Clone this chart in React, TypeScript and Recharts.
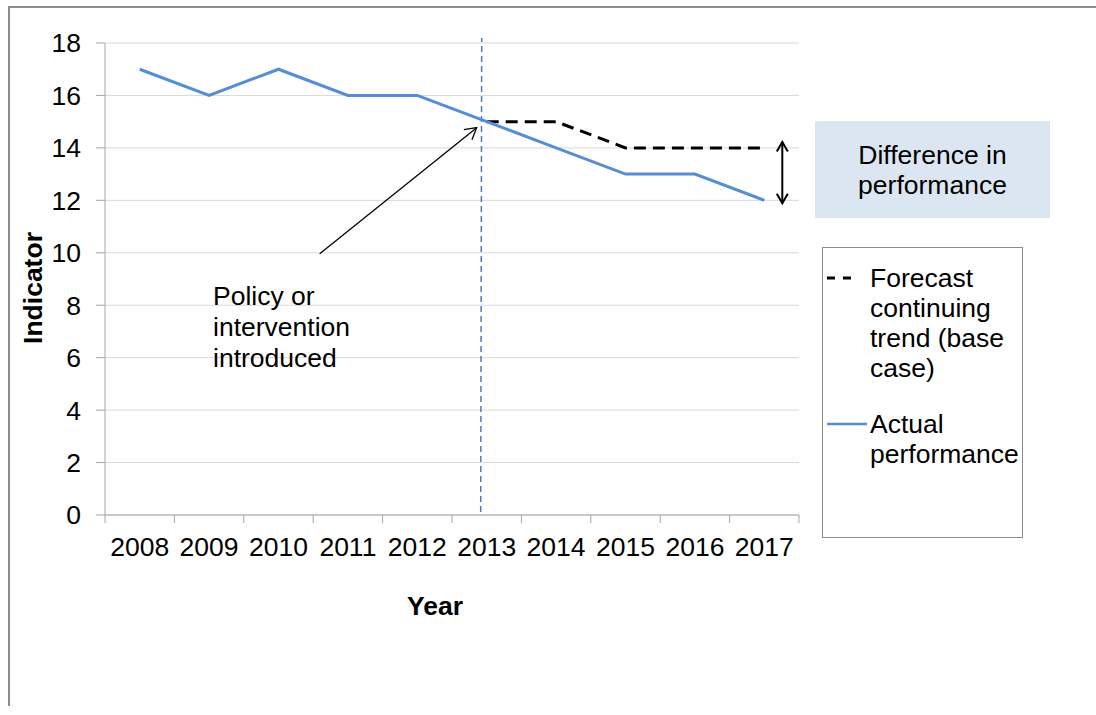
import React from "react";
import { LineChart, Line, XAxis, YAxis, CartesianGrid, ReferenceLine, ReferenceDot, Legend, Label } from "recharts";

const years = ["2008", "2009", "2010", "2011", "2012", "2013", "2014", "2015", "2016", "2017"];
const actual = [17, 16, 17, 16, 16, 15, 14, 13, 13, 12];
const forecast = [null, null, null, null, null, 15, 15, 14, 14, 14];
const yTicks = [0, 2, 4, 6, 8, 10, 12, 14, 16, 18];
const legendOrder = ["Forecast continuing trend (base case)", "Actual performance"];

const data = years.map((year, i) => ({ year, actual: actual[i], forecast: forecast[i] }));

const FONT = '"Liberation Sans", Arial, sans-serif';
const BLUE = "#558ed5";
const AXIS = "#a6a6a6";
const PLOT_W = 694;
const STEP = PLOT_W / years.length;
const TICK = 8;

// tick marks sit between the categories, like Excel does
const XTick = (props: any) => {
    const { x, y, payload, index } = props;
    const axisY = y - TICK;
    return (
        <g>
            <line x1={x - STEP / 2} x2={x - STEP / 2} y1={axisY} y2={axisY + TICK} stroke={AXIS} />
            {index === years.length - 1 && (
                <line x1={x + STEP / 2} x2={x + STEP / 2} y1={axisY} y2={axisY + TICK} stroke={AXIS} />
            )}
            <text x={x} y={axisY + 41} textAnchor="middle" fontSize={26.5} fill="#000" fontFamily={FONT}>
                {payload.value}
            </text>
        </g>
    );
};

const openHead = (tx: number, ty: number, ux: number, uy: number, len: number) => {
    const a = Math.PI / 6;
    const p1x = tx - len * (ux * Math.cos(a) - uy * Math.sin(a));
    const p1y = ty - len * (uy * Math.cos(a) + ux * Math.sin(a));
    const p2x = tx - len * (ux * Math.cos(a) + uy * Math.sin(a));
    const p2y = ty - len * (uy * Math.cos(a) - ux * Math.sin(a));
    return `M${p1x},${p1y} L${tx},${ty} L${p2x},${p2y}`;
};

// arrow from the "Policy" note to the 2013 point
const PolicyArrow = (props: any) => {
    const { cx, cy } = props;
    const x1 = cx - 167, y1 = cy + 132;
    const x2 = cx - 10, y2 = cy + 6;
    const L = Math.hypot(x2 - x1, y2 - y1);
    const ux = (x2 - x1) / L, uy = (y2 - y1) / L;
    return (
        <g>
            <line x1={x1} y1={y1} x2={x2} y2={y2} stroke="#000" strokeWidth={1.3} />
            <path d={openHead(x2, y2, ux, uy, 13)} fill="none" stroke="#000" strokeWidth={1.3} />
        </g>
    );
};

// double arrow showing the gap at 2017
const GapArrow = (props: any) => {
    const { x1, y1, y2 } = props;
    const x = x1 + 18;
    const top = Math.min(y1, y2) - 6;
    const bot = Math.max(y1, y2) + 3;
    return (
        <g>
            <line x1={x} y1={top} x2={x} y2={bot} stroke="#000" strokeWidth={2} />
            <path d={openHead(x, top, 0, -1, 11)} fill="none" stroke="#000" strokeWidth={2} />
            <path d={openHead(x, bot, 0, 1, 11)} fill="none" stroke="#000" strokeWidth={2} />
        </g>
    );
};

const IntroLine = (props: any) => {
    const { x1, y1, y2 } = props;
    return (
        <line x1={x1 - 6} x2={x1 - 5} y1={y1 - 3} y2={y2 - 5} stroke="#4a7ebb" strokeWidth={1.5} strokeDasharray="6 4" />
    );
};

const renderLegend = (props: any) => {
    const items = [...(props.payload || [])].sort(
        (a: any, b: any) => legendOrder.indexOf(a.value) - legendOrder.indexOf(b.value)
    );
    const tops = [15, 161];
    return (
        <div style={{
            position: "relative", width: 201, height: 291, boxSizing: "border-box",
            border: "1.5px solid #8c8c8c", background: "#fff", fontFamily: FONT, fontSize: 26.5, color: "#000"
        }}>
            {items.map((entry: any, i: number) => {
                const dashed = !!entry.payload.strokeDasharray;
                return (
                    <div key={entry.value} style={{ position: "absolute", left: 0, top: tops[i], width: 201 }}>
                        <svg width={46} height={30} style={{ position: "absolute", left: 3, top: 0 }}>
                            <line x1={1} x2={dashed ? 28 : 41} y1={15} y2={15}
                                stroke={entry.color} strokeWidth={dashed ? 3 : 2.5}
                                strokeDasharray={dashed ? "8 8" : undefined} />
                        </svg>
                        <div style={{ position: "absolute", left: 47, top: 0, width: 152, lineHeight: "30px", textAlign: "left" }}>
                            {entry.value}
                        </div>
                    </div>
                );
            })}
        </div>
    );
};

export default function App() {
    return (
        <div style={{
            position: "absolute", left: 8, top: 6, width: 1086, height: 698,
            borderTop: "2px solid #8c8c8c", borderLeft: "2px solid #8c8c8c", fontFamily: FONT
        }}>
            <LineChart width={1084} height={698} data={data} margin={{ top: 35, right: 295, bottom: 131, left: 35 }}>
                <CartesianGrid vertical={false} stroke="#d9d9d9" />
                <XAxis dataKey="year" padding={{ left: STEP / 2, right: STEP / 2 }} height={60}
                    axisLine={{ stroke: AXIS }} tickLine={false} tickSize={TICK} tickMargin={0}
                    interval={0} tick={<XTick />}>
                    <Label content={(p: any) => (
                        <text x={p.viewBox.x + 330} y={p.viewBox.y + 100} textAnchor="middle"
                            fontSize={26.5} fontWeight="bold" fill="#000" fontFamily={FONT}>Year</text>
                    )} />
                </XAxis>
                <YAxis width={60} domain={[0, 18]} ticks={yTicks} interval={0} tickSize={9} tickMargin={15}
                    axisLine={{ stroke: AXIS }} tickLine={{ stroke: AXIS }}
                    tick={{ fontSize: 26.5, fill: "#000", fontFamily: FONT }}>
                    <Label content={(p: any) => {
                        const x = p.viewBox.x - 12;
                        const y = p.viewBox.y + 245;
                        return (
                            <text x={x} y={y} transform={`rotate(-90 ${x} ${y})`} textAnchor="middle"
                                dominantBaseline="central" fontSize={26.5} fontWeight="bold" fill="#000" fontFamily={FONT}>
                                Indicator
                            </text>
                        );
                    }} />
                </YAxis>
                <ReferenceLine x="2013" shape={<IntroLine />} />
                <Line dataKey="forecast" name="Forecast continuing trend (base case)" stroke="#000"
                    strokeWidth={3} strokeDasharray="12 7" dot={false} isAnimationActive={false} />
                <Line dataKey="actual" name="Actual performance" stroke={BLUE} strokeWidth={3}
                    dot={false} isAnimationActive={false} />
                <ReferenceLine segment={[{ x: "2017", y: 14 }, { x: "2017", y: 12 }]} shape={<GapArrow />} />
                <ReferenceDot x="2013" y={15} r={0} shape={<PolicyArrow />} />
                <Legend layout="vertical" align="center" verticalAlign="middle" content={renderLegend}
                    wrapperStyle={{ left: 812, top: 239, width: 201, height: 291, margin: 0 }} />
            </LineChart>
            <div style={{
                position: "absolute", left: 805, top: 113, width: 235, height: 97, background: "#dce6f2",
                fontSize: 26.5, lineHeight: "30px", textAlign: "center", paddingTop: 19, boxSizing: "border-box", color: "#000"
            }}>
                Difference in<br />performance
            </div>
            <div style={{
                position: "absolute", left: 203, top: 273, fontSize: 26.5, lineHeight: "31px", color: "#000"
            }}>
                Policy or<br />intervention<br />introduced
            </div>
        </div>
    );
}
